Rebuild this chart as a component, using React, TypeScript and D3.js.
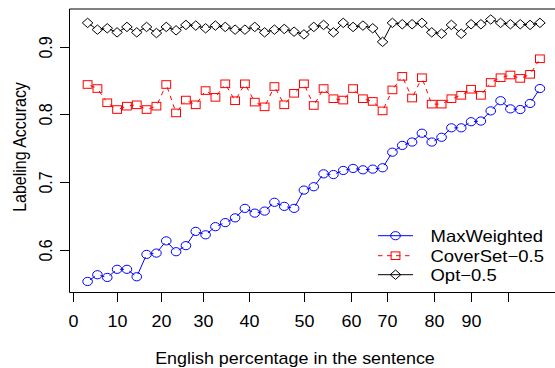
import React, { useEffect, useRef } from 'react'
import * as d3 from 'd3'

// accuracy per point (47 points, left to right)
const maxWeighted = [
  0.553, 0.563, 0.559, 0.571, 0.571, 0.560, 0.593, 0.595, 0.613, 0.597,
  0.606, 0.627, 0.622, 0.634, 0.640, 0.647, 0.661, 0.654, 0.657, 0.670,
  0.664, 0.661, 0.688, 0.693, 0.712, 0.711, 0.717, 0.720, 0.718, 0.719,
  0.721, 0.744, 0.754, 0.759, 0.772, 0.759, 0.766, 0.780, 0.780, 0.789,
  0.790, 0.805, 0.820, 0.808, 0.807, 0.816, 0.838
]
const coverSet = [
  0.844, 0.838, 0.817, 0.807, 0.812, 0.814, 0.807, 0.812, 0.844, 0.802,
  0.821, 0.814, 0.835, 0.825, 0.845, 0.820, 0.845, 0.818, 0.811, 0.841,
  0.814, 0.831, 0.845, 0.813, 0.838, 0.823, 0.821, 0.838, 0.823, 0.819,
  0.805, 0.836, 0.856, 0.824, 0.854, 0.815, 0.815, 0.823, 0.828, 0.837,
  0.828, 0.847, 0.854, 0.858, 0.853, 0.859, 0.882
]
const opt = [
  0.935, 0.925, 0.927, 0.921, 0.929, 0.921, 0.929, 0.920, 0.929, 0.924,
  0.932, 0.931, 0.927, 0.931, 0.929, 0.925, 0.925, 0.929, 0.921, 0.925,
  0.926, 0.922, 0.918, 0.929, 0.932, 0.921, 0.935, 0.929, 0.931, 0.927,
  0.907, 0.935, 0.933, 0.933, 0.935, 0.921, 0.919, 0.932, 0.919, 0.933,
  0.933, 0.940, 0.935, 0.933, 0.933, 0.932, 0.935
]

// x axis: labels and where they sit on the point index
const xTickLabels = ['0', '10', '20', '30', '40', '50', '60', '70', '80', '90', '']
const xTickAt = [-0.46, 3.95, 8.49, 12.7, 17.44, 23.03, 27.75, 31.48, 36.23, 39.96, 43.73]
const yTicks = [0.6, 0.7, 0.8, 0.9]

const seriesNames = ['MaxWeighted', 'CoverSet\u22120.5', 'Opt\u22120.5']
const seriesColors = ['#0000ff', '#ff0000', '#000000']
const seriesDash = [null, '4.5,4.5', null]
const seriesShape = ['circle', 'square', 'diamond']

const FONT = '"Liberation Sans", Arial, Helvetica, sans-serif'
const SX = 1.12 // the original picture is a bit stretched sideways
const GAP = 3 // lines stop short of the points, like R's type="b"

function marker(g: any, shape: string, cx: number, cy: number, color: string) {
  if (shape === 'circle') {
    g.append('ellipse').attr('cx', cx).attr('cy', cy).attr('rx', 4.8).attr('ry', 4.1)
      .attr('fill', 'none').attr('stroke', color).attr('stroke-width', 1)
  } else if (shape === 'square') {
    g.append('rect').attr('x', cx - 4.4).attr('y', cy - 3.8).attr('width', 8.8).attr('height', 7.6)
      .attr('fill', 'none').attr('stroke', color).attr('stroke-width', 1)
  } else {
    const rx = 5.3, ry = 4.7
    g.append('path')
      .attr('d', `M${cx - rx},${cy}L${cx},${cy - ry}L${cx + rx},${cy}L${cx},${cy + ry}Z`)
      .attr('fill', 'none').attr('stroke', color).attr('stroke-width', 1)
  }
}

export default function App() {
  const ref = useRef<SVGSVGElement>(null)

  useEffect(() => {
    const svg = d3.select(ref.current)
    svg.selectAll('*').remove()

    const x = d3.scaleLinear().domain([-0.84, 48.84]).range([69.5, 558])
    const y = d3.scaleLinear().domain([0.5375, 0.9555]).range([292, 9])

    // box (right edge falls outside the picture)
    svg.append('line').attr('x1', 69.5).attr('x2', 560).attr('y1', 9).attr('y2', 9)
      .attr('stroke', '#000').attr('stroke-width', 1)
    svg.append('line').attr('x1', 69.5).attr('x2', 69.5).attr('y1', 9).attr('y2', 292.5)
      .attr('stroke', '#000').attr('stroke-width', 1)
    svg.append('line').attr('x1', 69.5).attr('x2', 560).attr('y1', 292.5).attr('y2', 292.5)
      .attr('stroke', '#000').attr('stroke-width', 1)

    // x ticks
    const xt = svg.append('g')
    xTickAt.forEach((t, i) => {
      const px = Math.round(x(t)) + 0.5
      xt.append('line').attr('x1', px).attr('x2', px).attr('y1', 292.5).attr('y2', 302)
        .attr('stroke', '#000')
      xt.append('text').attr('transform', `translate(${px},326.5) scale(${SX},1)`)
        .attr('text-anchor', 'middle').attr('font-family', FONT).attr('font-size', 16)
        .attr('fill', '#000').text(xTickLabels[i])
    })

    // y ticks
    const yt = svg.append('g')
    yTicks.forEach(v => {
      const py = Math.round(y(v)) + 0.5
      yt.append('line').attr('x1', 60).attr('x2', 69.5).attr('y1', py).attr('y2', py)
        .attr('stroke', '#000')
      yt.append('text').attr('transform', `translate(51.5,${py}) scale(${SX},1) rotate(-90)`)
        .attr('text-anchor', 'middle').attr('font-family', FONT).attr('font-size', 16)
        .attr('fill', '#000').text(d3.format('.1f')(v))
    })

    // axis titles
    svg.append('text').attr('transform', `translate(295,364) scale(${SX},1)`)
      .attr('text-anchor', 'middle').attr('font-family', FONT).attr('font-size', 16)
      .text('English percentage in the sentence')
    svg.append('text').attr('transform', `translate(25.5,147) scale(${SX},1) rotate(-90)`)
      .attr('text-anchor', 'middle').attr('font-family', FONT).attr('font-size', 16)
      .text('Labeling Accuracy')

    // series: short segments between points, then the hollow markers
    const allSeries = [maxWeighted, coverSet, opt]
    allSeries.forEach((vals, s) => {
      const g = svg.append('g')
      const pts = vals.map((v, i) => [x(i + 1), y(v)])
      for (let i = 1; i < pts.length; i++) {
        const [x0, y0] = pts[i - 1]
        const [x1, y1] = pts[i]
        const len = Math.hypot(x1 - x0, y1 - y0)
        if (len <= 2 * GAP) continue
        const ux = (x1 - x0) / len, uy = (y1 - y0) / len
        const seg = g.append('line')
          .attr('x1', x0 + ux * GAP).attr('y1', y0 + uy * GAP)
          .attr('x2', x1 - ux * GAP).attr('y2', y1 - uy * GAP)
          .attr('stroke', seriesColors[s]).attr('stroke-width', 1)
        if (seriesDash[s]) seg.attr('stroke-dasharray', seriesDash[s])
      }
      pts.forEach(([px, py]) => marker(g, seriesShape[s], px, py, seriesColors[s]))
    })

    // legend
    const lg = svg.append('g')
    const rows = [235.7, 255.7, 274.7]
    seriesNames.forEach((name, s) => {
      const ly = rows[s]
      const l = lg.append('line').attr('x1', 378).attr('x2', 413).attr('y1', ly).attr('y2', ly)
        .attr('stroke', seriesColors[s]).attr('stroke-width', 1)
      if (seriesDash[s]) l.attr('stroke-dasharray', seriesDash[s])
      marker(lg, seriesShape[s], 395.5, ly, seriesColors[s])
      lg.append('text').attr('transform', `translate(430.5,${ly + 6}) scale(${SX},1)`)
        .attr('font-family', FONT).attr('font-size', 16.5).attr('fill', '#000').text(name)
    })
  }, [])

  return (
    <svg ref={ref} width={555} height={368}
      style={{ position: 'absolute', left: 0, top: 0, background: '#fff' }} />
  )
}
